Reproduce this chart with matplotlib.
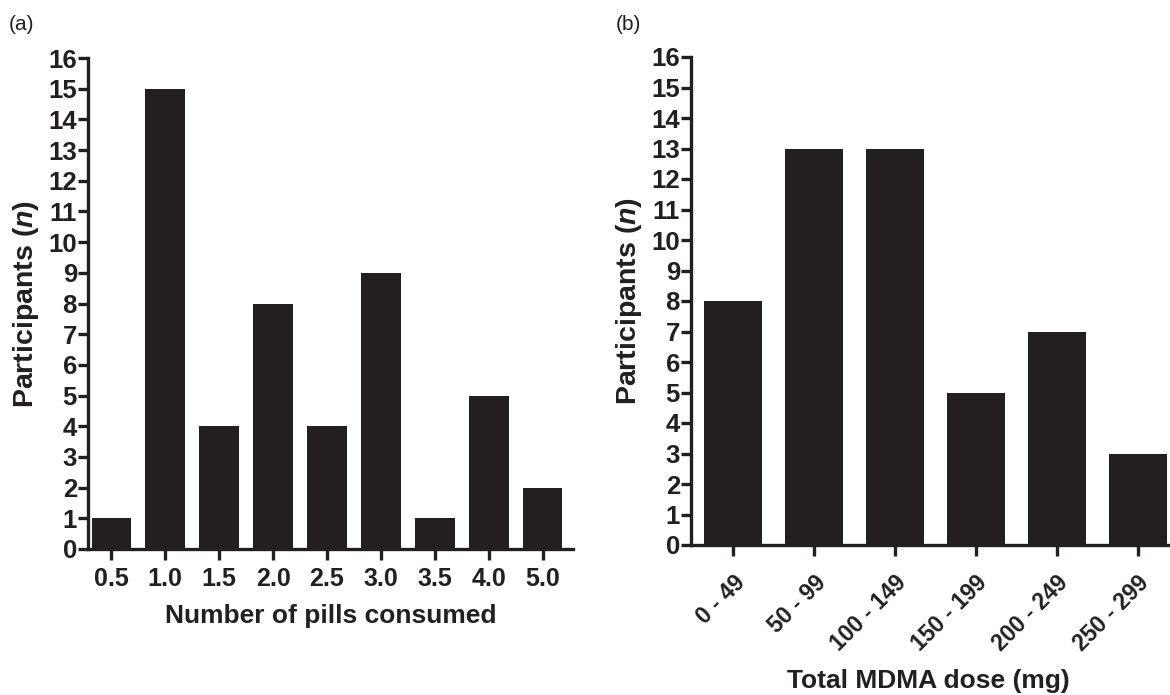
import matplotlib
matplotlib.use("Agg")
import matplotlib.pyplot as plt

# Data
pills_labels = ["0.5", "1.0", "1.5", "2.0", "2.5", "3.0", "3.5", "4.0", "5.0"]
pills_counts = [1, 15, 4, 8, 4, 9, 1, 5, 2]

dose_labels = ["0 - 49", "50 - 99", "100 - 149", "150 - 199", "200 - 249", "250 - 299"]
dose_counts = [8, 13, 13, 5, 7, 3]

y_ticks = list(range(0, 17))

plt.rcParams['font.family'] = ['Liberation Sans', 'DejaVu Sans']
plt.rcParams['mathtext.fontset'] = 'custom'
plt.rcParams['mathtext.it'] = 'Liberation Sans:bold:italic'
plt.rcParams['mathtext.rm'] = 'Liberation Sans:bold'

BAR = '#231f20'
TXT = '#231f20'
W, H = 1170, 695
fig = plt.figure(figsize=(W / 100, H / 100), dpi=100)

def px_axes(l, r, t, b):
    return fig.add_axes([l / W, 1 - b / H, (r - l) / W, (b - t) / H])

axa = px_axes(88, 573, 58, 549)
axb = px_axes(691, 1170, 57, 545)

def style(ax, xsize):
    for s in ['top', 'right']:
        ax.spines[s].set_visible(False)
    for s in ['left', 'bottom']:
        ax.spines[s].set_linewidth(2.4)
        ax.spines[s].set_color(TXT)
    ax.tick_params(axis='both', direction='out', width=2.4, color=TXT,
                   labelcolor=TXT)
    ax.tick_params(axis='y', length=7, pad=1, labelsize=18.5)
    ax.tick_params(axis='x', length=8, pad=5, labelsize=xsize)
    ax.set_ylim(0, 16)
    ax.set_yticks(y_ticks)
    ax.set_yticklabels([str(v) for v in y_ticks], fontweight='bold')
    for lab in ax.get_yticklabels() + ax.get_xticklabels():
        lab.set_fontweight('bold')
    ax.set_ylabel(r'Participants ($\mathit{n}$)', fontsize=20.5,
                  fontweight='bold', color=TXT, labelpad=5)

# Panel (a)
xa = list(range(len(pills_labels)))
axa.bar(xa, pills_counts, width=0.73, color=BAR, zorder=2)
axa.set_xlim(-0.43, 8.56)
axa.set_xticks(xa)
axa.set_xticklabels(pills_labels, fontweight='bold')
style(axa, 18)
axa.set_xlabel('Number of pills consumed', fontsize=19, fontweight='bold',
               color=TXT, labelpad=9)

# Panel (b)
xb = list(range(len(dose_labels)))
axb.bar(xb, dose_counts, width=0.72, color=BAR, zorder=2)
axb.set_xlim(-0.52, 5.4)
axb.set_xticks(xb)
axb.set_xticklabels(dose_labels, fontweight='bold', rotation=45,
                    ha='right', va='top', rotation_mode='anchor')
style(axb, 16.5)
axb.tick_params(axis='x', pad=11)
fig.text(928 / W, 1 - 681 / H, 'Total MDMA dose (mg)', fontsize=19,
         fontweight='bold', color=TXT, ha='center', va='center')

fig.text(9 / W, 1 - 25 / H, '(a)', fontsize=15, color=TXT, va='center', ha='left')
fig.text(616 / W, 1 - 25 / H, '(b)', fontsize=15, color=TXT, va='center', ha='left')

fig.savefig('out.png', dpi=100)
